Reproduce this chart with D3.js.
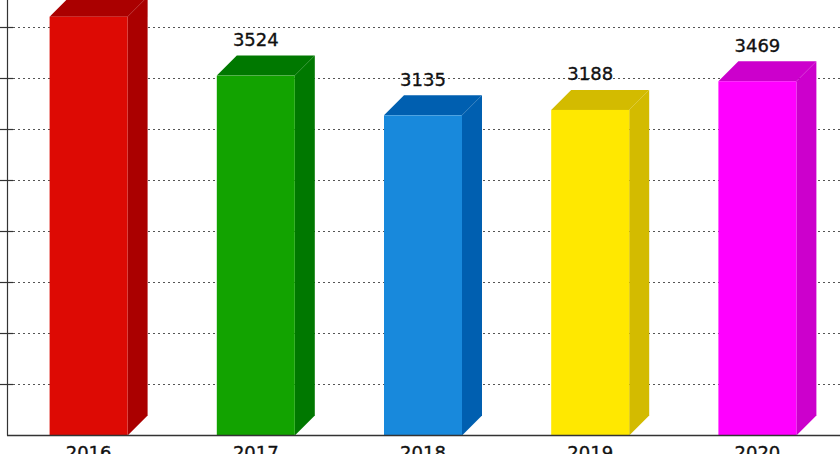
<!DOCTYPE html>
<html>
<head>
<meta charset="utf-8">
<script src="https://cdn.jsdelivr.net/npm/d3@7"></script>
<style>
  html, body { margin: 0; padding: 0; background: #fff; overflow: hidden; }
  svg { display: block; }
</style>
</head>
<body>
<svg id="chart" width="840" height="454"></svg>
<script>
const years = ["2016", "2017", "2018", "2019", "2020"];
const values = [4101, 3524, 3135, 3188, 3469];
const frontColors = ["#dd0a04", "#12a300", "#1889dc", "#ffe800", "#ff00ff"];
const sideColors = ["#aa0000", "#007800", "#005fb0", "#d3bb00", "#cc00cc"];
const gridTicks = [500, 1000, 1500, 2000, 2500, 3000, 3500, 4000];

const W = 840, H = 454;
const axisX = 7, baseY = 435.5;
const depthX = 20, depthY = 20;

const svg = d3.select("#chart");

const x = d3.scaleBand().domain(years).range([5, 841])
  .paddingInner(0.5335).paddingOuter(0.26675);
const y = d3.scaleLinear().domain([0, 4000]).range([baseY, 27]);

// gridlines
svg.append("g").selectAll("line").data(gridTicks).join("line")
  .attr("x1", 13).attr("x2", W)
  .attr("y1", d => Math.round(y(d)) + 0.5).attr("y2", d => Math.round(y(d)) + 0.5)
  .attr("stroke", "#555").attr("stroke-width", 1).attr("stroke-dasharray", "2,3");

// bars
const bars = svg.append("g").selectAll("g").data(years).join("g");
bars.each(function(yr, i) {
  const g = d3.select(this);
  const x0 = x(yr), x1 = x0 + x.bandwidth();
  const top = y(values[i]), bot = y(0);
  g.append("path")
    .attr("d", `M${x1},${top}L${x1 + depthX},${top - depthY}L${x1 + depthX},${bot - depthY}L${x1},${bot}Z`)
    .attr("fill", sideColors[i]);
  g.append("path")
    .attr("d", `M${x0},${top}L${x0 + depthX},${top - depthY}L${x1 + depthX},${top - depthY}L${x1},${top}Z`)
    .attr("fill", sideColors[i]);
  g.append("rect")
    .attr("x", x0).attr("y", top)
    .attr("width", x.bandwidth()).attr("height", bot - top)
    .attr("fill", frontColors[i]);
  g.append("text")
    .attr("x", x0 + x.bandwidth() / 2)
    .attr("y", top - depthY - 9.5)
    .attr("text-anchor", "middle")
    .attr("font-family", "DejaVu Sans, Verdana, sans-serif")
    .attr("font-size", 18)
    .attr("fill", "#111")
    .attr("stroke", "#111").attr("stroke-width", 0.35)
    .text(values[i]);
});

// y axis
svg.append("line")
  .attr("x1", axisX + 0.5).attr("x2", axisX + 0.5)
  .attr("y1", 0).attr("y2", baseY)
  .attr("stroke", "#333").attr("stroke-width", 1.2);
svg.append("g").selectAll("line").data(gridTicks).join("line")
  .attr("x1", 0).attr("x2", 13)
  .attr("y1", d => Math.round(y(d)) + 0.5).attr("y2", d => Math.round(y(d)) + 0.5)
  .attr("stroke", "#333").attr("stroke-width", 1.2);

// baseline
svg.append("line")
  .attr("x1", axisX).attr("x2", W)
  .attr("y1", baseY).attr("y2", baseY)
  .attr("stroke", "#333").attr("stroke-width", 1.5);

// x labels
svg.append("g").selectAll("text").data(years).join("text")
  .attr("x", d => x(d) + x.bandwidth() / 2)
  .attr("y", 459)
  .attr("text-anchor", "middle")
  .attr("font-family", "DejaVu Sans, Verdana, sans-serif")
  .attr("font-size", 18)
  .attr("fill", "#111")
  .attr("stroke", "#111").attr("stroke-width", 0.35)
  .text(d => d);
</script>
</body>
</html>
